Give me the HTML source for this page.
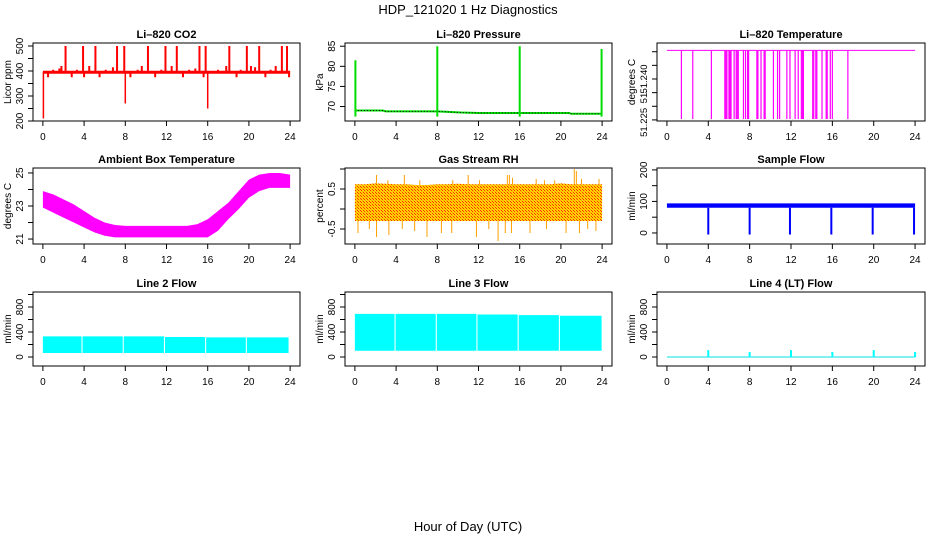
<!DOCTYPE html>
<html><head><meta charset="utf-8"><style>
html,body{margin:0;padding:0;background:#fff;}
svg{display:block;font-family:"Liberation Sans",Arial,sans-serif;}
</style></head><body>
<svg id="chart" width="936" height="540" viewBox="0 0 936 540" xmlns="http://www.w3.org/2000/svg">
<defs>
<pattern id="rhpat" width="3" height="3" patternUnits="userSpaceOnUse">
<rect width="3" height="3" fill="#ffd400"/><rect width="1" height="1" fill="#ff3000"/><rect x="1" y="1" width="1" height="1" fill="#ff3000"/><rect x="2" y="2" width="1" height="1" fill="#ffa000"/>
</pattern>
</defs>
<text x="468" y="14" text-anchor="middle" font-size="13">HDP_121020  1 Hz Diagnostics</text>
<text x="468" y="531" text-anchor="middle" font-size="13">Hour of Day (UTC)</text>
</svg>
<script>
// ---------- data ----------
const xTicks = [0,4,8,12,16,20,24];
const hours = [0,1,2,3,4,5,6,7,8,9,10,11,12,13,14,15,16,17,18,19,20,21,22,23,24];

const co2Base = 395;
const co2SpikeT = [2.2,3.9,5.1,7.2,7.9,10.2,11.9,13.0,15.2,15.8,18.1,19.8,21.0,23.2,23.7];
const co2SpikeV = [500,500,500,500,500,500,500,500,500,500,500,500,500,500,500];
const co2MinorT = [0.5,1.0,1.6,1.8,2.8,3.3,4.0,4.5,5.5,6.1,6.8,8.5,9.2,9.6,10.9,11.5,12.5,13.6,14.2,14.8,15.6,17.0,17.8,18.8,19.2,20.2,20.6,21.6,22.1,22.6,23.9];
const co2MinorV = [375,405,410,420,375,405,375,420,375,405,415,375,405,420,375,405,420,375,405,410,375,405,420,375,405,420,415,375,405,420,375];
const co2DipT = [0.05,8.0,16.0];
const co2DipV = [210,270,250];

const presT = [0,2.7,3,8,10.3,12,16,20.8,21,24];
const presV = [69.0,69.0,68.8,68.8,68.5,68.4,68.4,68.4,68.2,68.2];
const presSpikeT = [0.05,8.0,16.0,23.95];
const presSpikeV = [81.5,85.0,85.0,84.3];

const tempBase = 51.2505;
const tempDropT = [1.4,2.5,4.3,5.6,5.7,5.8,6.0,6.1,6.2,6.5,6.7,6.8,6.9,7.4,7.6,7.8,7.9,8.7,8.8,9.1,9.4,9.5,10.3,10.7,10.9,11.6,11.9,12.4,12.7,13.0,13.1,13.2,14.1,14.2,14.4,14.5,15.0,15.4,15.5,15.8,16.0,17.5];
const tempDropV = 51.2253;

const ambHi = [23.9,23.7,23.4,23.1,22.7,22.3,22.0,21.85,21.8,21.8,21.8,21.8,21.8,21.8,21.8,21.9,22.2,22.7,23.2,23.9,24.6,24.9,25.0,25.0,24.9];
const ambLo = [22.9,22.6,22.3,22.0,21.7,21.4,21.2,21.1,21.1,21.1,21.1,21.1,21.1,21.1,21.1,21.1,21.1,21.5,22.2,22.8,23.5,23.9,24.1,24.1,24.1];

const rhHi = [0.62,0.62,0.64,0.63,0.62,0.62,0.60,0.60,0.62,0.62,0.63,0.62,0.62,0.62,0.62,0.62,0.62,0.62,0.62,0.62,0.64,0.62,0.62,0.62,0.62];
const rhLo = [-0.30,-0.30,-0.30,-0.30,-0.30,-0.30,-0.30,-0.30,-0.30,-0.30,-0.30,-0.30,-0.30,-0.30,-0.30,-0.30,-0.30,-0.30,-0.30,-0.30,-0.30,-0.30,-0.30,-0.30,-0.30];
const rhUpT = [2.1,3.2,4.8,6.3,9.5,11.0,12.1,14.8,15.0,15.3,17.6,18.4,19.4,21.3,21.5,22.0,23.7];
const rhUpV = [0.85,0.72,0.85,0.72,0.72,0.85,0.72,0.85,0.85,0.78,0.75,0.72,0.72,1.0,0.95,0.75,0.75];
const rhDnT = [0.3,1.4,2.1,3.3,4.6,5.8,7.0,8.4,9.4,11.8,13.0,13.9,14.6,15.2,17.0,18.6,20.5,21.8,22.6,23.4];
const rhDnV = [-0.6,-0.5,-0.7,-0.65,-0.5,-0.55,-0.7,-0.6,-0.6,-0.7,-0.5,-0.8,-0.6,-0.6,-0.6,-0.5,-0.6,-0.6,-0.5,-0.55];

const flowHi = 94, flowLo = 80;
const flowDipT = [4.0,8.0,11.9,15.9,19.9,23.9];
const flowDipV = [-5,-5,-5,-5,-5,-5];

const l2SegStart = [0,3.85,7.85,11.85,15.85,19.8];
const l2SegEnd = [3.75,7.75,11.75,15.75,19.7,23.85];
const l2Top = [330,330,330,320,315,315];
const l2Bot = [64,64,64,64,64,64];

const l3SegStart = [0,3.95,7.95,11.9,15.9,19.9];
const l3SegEnd = [3.85,7.85,11.8,15.8,19.8,23.95];
const l3Top = [690,690,690,680,670,660];
const l3Bot = [100,100,100,100,100,100];

const l4SpikeT = [4.0,8.0,12.0,16.0,20.0,24.0];
const l4SpikeV = [110,80,110,80,110,80];

// ---------- helpers ----------
const svg = document.getElementById('chart');
const NS = 'http://www.w3.org/2000/svg';
function mk(tag, attrs, parent){
  const e = document.createElementNS(NS, tag);
  for (const k in attrs) e.setAttribute(k, attrs[k]);
  (parent||svg).appendChild(e);
  return e;
}
const cols = [[33,300],[345,612],[657,925]];
const rows = [[43,121],[168,244],[292,366]];
function panel(name, c, r, ydom, yTicks, yLabels, ylab, title, lblSize){
  const [x0,x1] = cols[c], [y0,y1] = rows[r];
  const g = mk('g', {});
  
  
  const X = t => x0 + (t + 0.96) / 25.92 * (x1 - x0);
  const Y = v => y1 - (v - ydom[0]) / (ydom[1] - ydom[0]) * (y1 - y0);
  const box = mk('rect', {x:x0, y:y0, width:x1-x0, height:y1-y0, fill:'none', stroke:'#000', 'stroke-width':1}, g);
  
  
  const tt = mk('text', {x:(x0+x1)/2, y:y0-5, 'text-anchor':'middle', 'font-size':11, 'font-weight':'bold'}, g);
  tt.textContent = title;
  
  
  const xa = mk('g', {}, g);
  
  
  mk('line', {x1:X(0), x2:X(24), y1:y1, y2:y1, stroke:'#000'}, xa);
  xTicks.forEach(t => {
    mk('line', {x1:X(t), x2:X(t), y1:y1, y2:y1+5, stroke:'#000'}, xa);
    const lt = mk('text', {x:X(t), y:y1+19, 'text-anchor':'middle', 'font-size':10}, xa);
    lt.textContent = t;
    
    
  });
  const ya = mk('g', {}, g);
  
  
  yTicks.forEach(v => { mk('line', {x1:x0-5, x2:x0, y1:Y(v), y2:Y(v), stroke:'#000'}, ya); });
  yLabels.forEach(([v,s]) => {
    const yy = Y(v);
    const lt = mk('text', {x:x0-10, y:yy, 'text-anchor':'middle', 'font-size':lblSize||10, transform:`rotate(-90 ${x0-10} ${yy})`}, ya);
    lt.textContent = s;
    
    
  });
  const yl = mk('text', {x:x0-22, y:(y0+y1)/2, 'text-anchor':'middle', 'font-size':10, transform:`rotate(-90 ${x0-22} ${(y0+y1)/2})`}, g);
  yl.textContent = ylab;
  
  
  const clip = 'clip-' + name;
  const cp = mk('clipPath', {id:clip}, g);
  mk('rect', {x:x0, y:y0, width:x1-x0, height:y1-y0}, cp);
  const m = mk('g', {'clip-path':`url(#${clip})`}, g);
  
  
  return {X, Y, m};
}
function vline(p, t, v0, v1, color, w, nm){
  const l = mk('line', {x1:p.X(t), x2:p.X(t), y1:p.Y(v0), y2:p.Y(v1), stroke:color, 'stroke-width':w||1}, p.m);
  
  
  return l;
}
function band(p, ts, hi, lo, fill, nm){
  let d = ts.map((t,i) => `${p.X(t)},${p.Y(hi[i])}`).join(' ');
  d += ' ' + ts.map((t,i) => `${p.X(t)},${p.Y(lo[i])}`).reverse().join(' ');
  const pg = mk('polygon', {points:d, fill:fill, stroke:'none'}, p.m);
  
  
}

// ---------- CO2 ----------
let p = panel('co2-panel', 0, 0, [200,512], [200,250,300,350,400,450,500], [[200,'200'],[300,'300'],[400,'400'],[500,'500']], 'Licor ppm', 'Li\u2013820 CO2');
co2MinorT.forEach((t,i) => vline(p, t, co2Base, co2MinorV[i], '#ff0000', 2, 'co2-minor-spike'));
co2SpikeT.forEach((t,i) => vline(p, t, co2Base, co2SpikeV[i], '#ff0000', 2, 'co2-spike'));
co2DipT.forEach((t,i) => vline(p, t, co2Base, co2DipV[i], '#ff0000', 1.5, 'co2-dip'));
let bl = mk('line', {x1:p.X(0), x2:p.X(24), y1:p.Y(co2Base), y2:p.Y(co2Base), stroke:'#ff0000', 'stroke-width':3}, p.m);



// ---------- Pressure ----------
p = panel('pressure-panel', 1, 0, [66.4,85.8], [70,75,80,85], [[70,'70'],[75,'75'],[80,'80'],[85,'85']], 'kPa', 'Li\u2013820 Pressure');
let pl = mk('polyline', {points:presT.map((t,i)=>`${p.X(t)},${p.Y(presV[i])}`).join(' '), fill:'none', stroke:'#00dd00', 'stroke-width':2}, p.m);


let pd = mk('polyline', {points:presT.map((t,i)=>`${p.X(t)},${p.Y(presV[i])}`).join(' '), fill:'none', stroke:'#000', 'stroke-width':1, 'stroke-dasharray':'1 2'}, p.m);


presSpikeT.forEach((t,i) => { vline(p, t, 67.5, presSpikeV[i], '#00dd00', 2, 'pressure-spike'); });

// ---------- Temperature ----------
p = panel('li820-temp-panel', 2, 0, [51.2246,51.2532], [51.225,51.230,51.235,51.240,51.245,51.250], [[51.2241,'51.225'],[51.2335,'51.'],[51.2400,'51.240']], 'degrees C', 'Li\u2013820 Temperature', 9.5);
let tl = mk('line', {x1:p.X(0), x2:p.X(24), y1:p.Y(tempBase), y2:p.Y(tempBase), stroke:'#ff00ff', 'stroke-width':1}, p.m);


tempDropT.forEach(t => vline(p, t, tempBase, tempDropV, '#ff00ff', 1.2, 'temp-drop'));

// ---------- Ambient ----------
p = panel('ambient-temp-panel', 0, 1, [20.7,25.3], [21,22,23,24,25], [[21,'21'],[23,'23'],[25,'25']], 'degrees C', 'Ambient Box Temperature');
band(p, hours, ambHi, ambLo, '#ff00ff', 'ambient-temp-band');

// ---------- RH ----------
p = panel('rh-panel', 1, 1, [-0.875,1.025], [-0.5,0,0.5,1.0], [[-0.5,'-0.5'],[0.5,'0.5']], 'percent', 'Gas Stream RH');
rhUpT.forEach((t,i) => vline(p, t, 0.5, rhUpV[i], '#ffa000', 1, 'rh-up-spike'));
rhDnT.forEach((t,i) => vline(p, t, -0.2, rhDnV[i], '#ffa000', 1, 'rh-down-spike'));
band(p, hours, rhHi, rhLo, 'url(#rhpat)', 'rh-band');

// ---------- Sample flow ----------
p = panel('sample-flow-panel', 2, 1, [-35,206], [0,50,100,150,200], [[0,'0'],[100,'100'],[200,'200']], 'ml/min', 'Sample Flow');
band(p, [0,24], [flowHi,flowHi], [flowLo,flowLo], '#0000ff', 'sample-flow-band');
flowDipT.forEach((t,i) => vline(p, t, flowLo, flowDipV[i], '#0000ff', 2, 'sample-flow-dip'));

// ---------- Line 2 ----------
const fTicks = [0,200,400,600,800,1000];
const fLabels = [[0,'0'],[400,'400'],[800,'800']];
p = panel('line2-flow-panel', 0, 2, [-144,1040], fTicks, fLabels, 'ml/min', 'Line 2 Flow');
l2SegStart.forEach((s,i) => band(p, [s, l2SegEnd[i]], [l2Top[i],l2Top[i]], [l2Bot[i],l2Bot[i]], '#00ffff', 'line2-flow-segment'));

// ---------- Line 3 ----------
p = panel('line3-flow-panel', 1, 2, [-144,1040], fTicks, fLabels, 'ml/min', 'Line 3 Flow');
l3SegStart.forEach((s,i) => band(p, [s, l3SegEnd[i]], [l3Top[i],l3Top[i]], [l3Bot[i],l3Bot[i]], '#00ffff', 'line3-flow-segment'));

// ---------- Line 4 ----------
p = panel('line4-flow-panel', 2, 2, [-144,1040], fTicks, fLabels, 'ml/min', 'Line 4 (LT) Flow');
let l4 = mk('line', {x1:p.X(0), x2:p.X(24), y1:p.Y(0), y2:p.Y(0), stroke:'#00e0e0', 'stroke-width':1}, p.m);


l4SpikeT.forEach((t,i) => vline(p, t, 0, l4SpikeV[i], '#00ffff', 2, 'line4-flow-spike'));
</script>
</body></html>
